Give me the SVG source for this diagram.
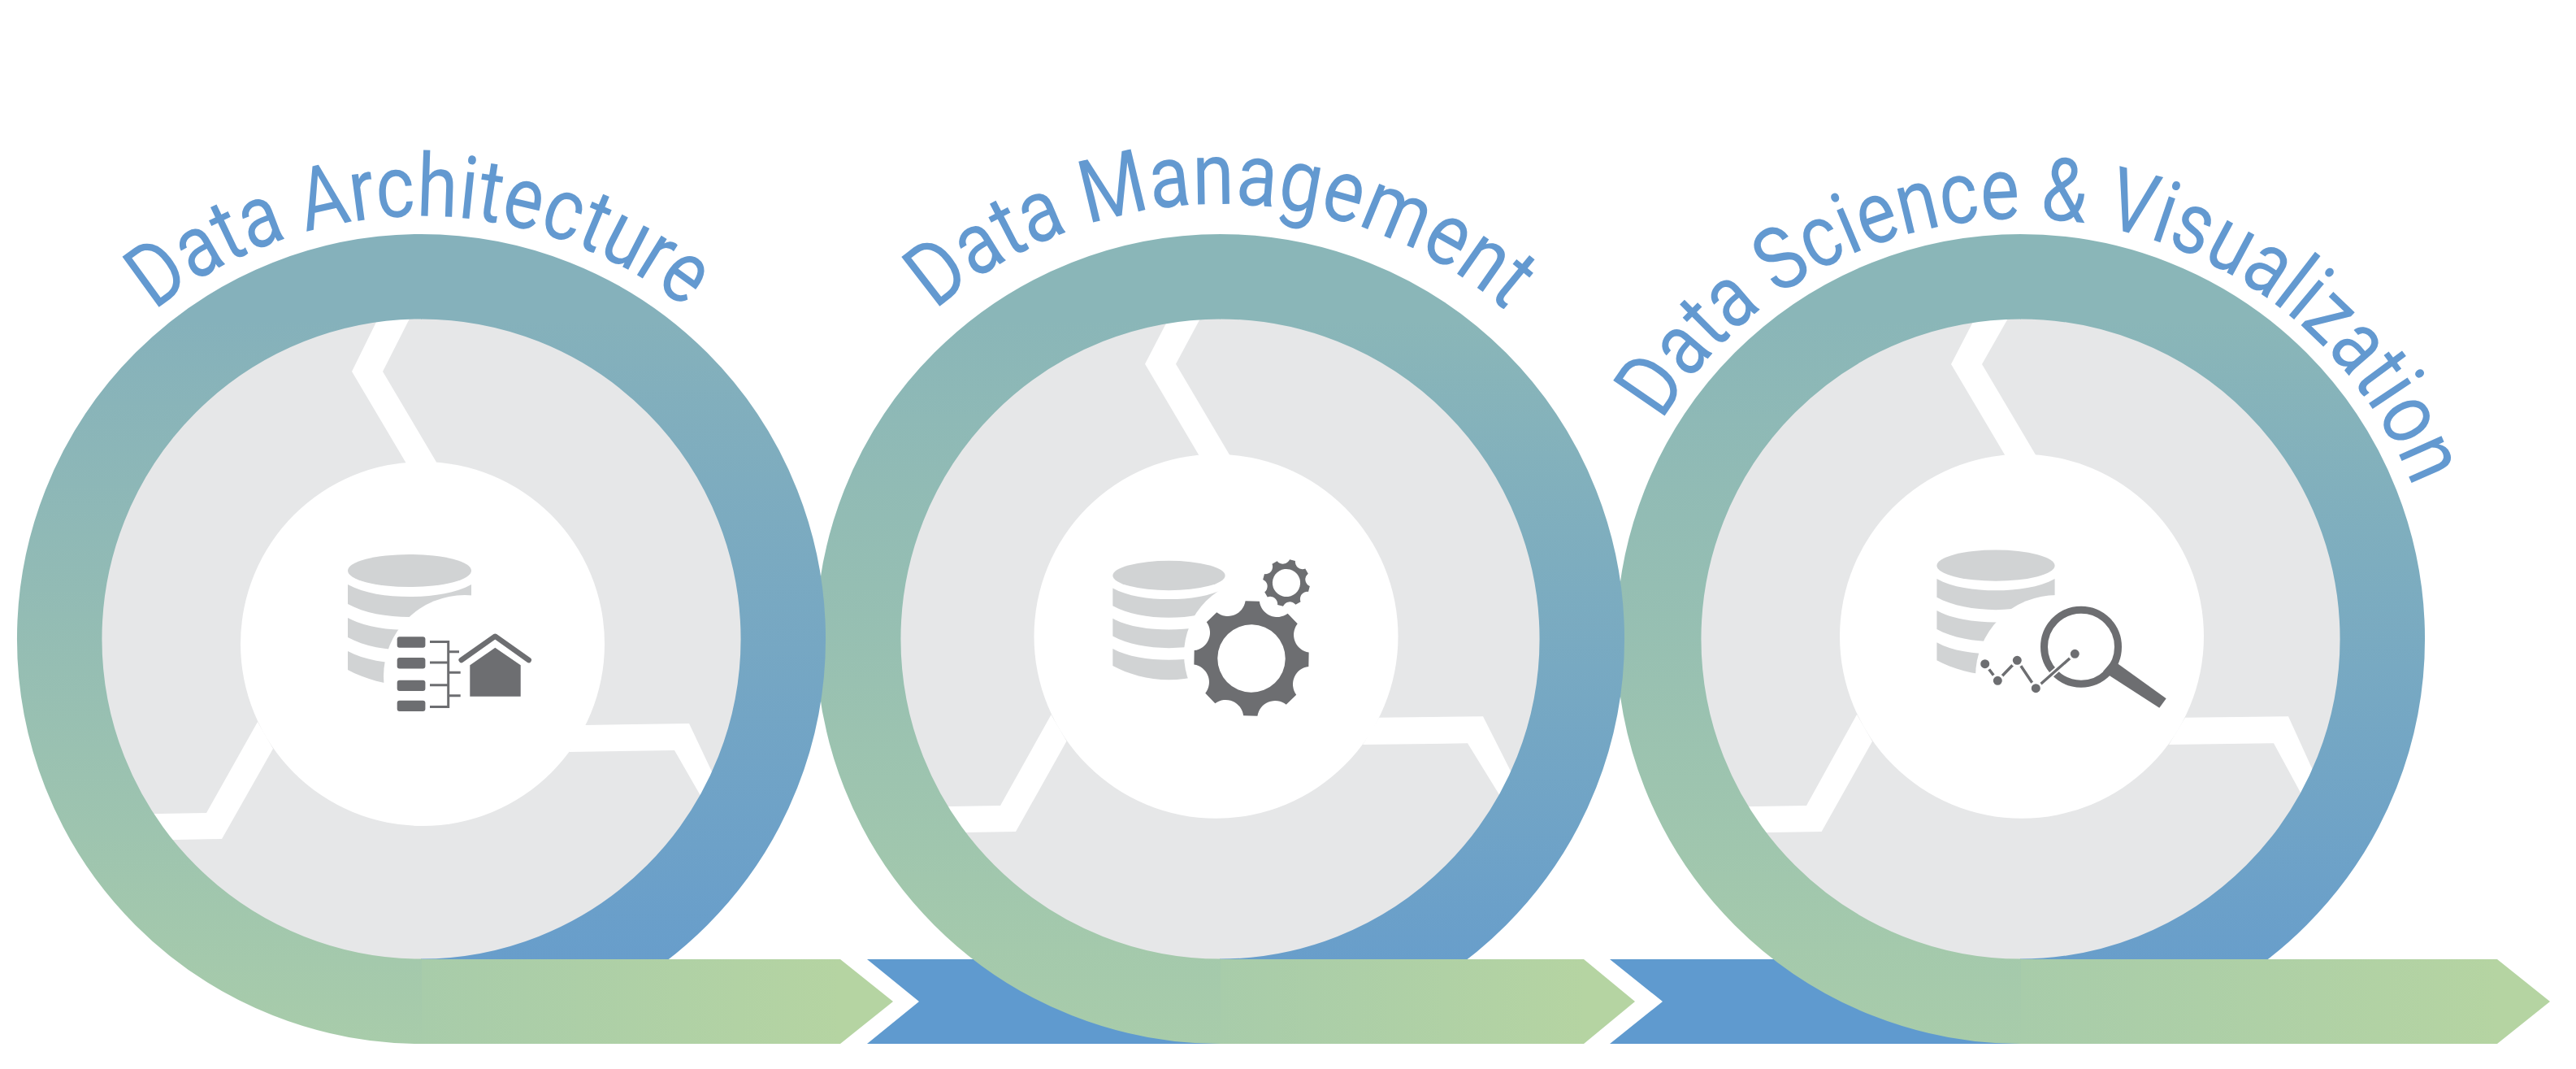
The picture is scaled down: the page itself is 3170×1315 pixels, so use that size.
<svg xmlns="http://www.w3.org/2000/svg" xmlns:xlink="http://www.w3.org/1999/xlink" width="3170" height="1315" viewBox="0 0 3170 1315">
<style>
.bg{fill:#fff}
.disc{fill:#e6e7e8}
.w{fill:#fff}
.ring{fill:none;stroke-width:104.5}
.dark{fill:#6d6e71}
.ln{fill:none;stroke:#6d6e71;stroke-width:3}
.title{font-family:Roboto,"Liberation Sans",sans-serif;font-size:108px;fill:#6399d0}
.blue{fill:#5f9acf}
</style>
<defs>
<linearGradient id="l1" gradientUnits="userSpaceOnUse" x1="0" y1="1284" x2="0" y2="395"><stop offset="0" stop-color="#a8ccaa"/><stop offset="1" stop-color="#85b1bb"/></linearGradient>
<linearGradient id="r1" gradientUnits="userSpaceOnUse" x1="0" y1="395" x2="0" y2="1284"><stop offset="0" stop-color="#85b1bb"/><stop offset="1" stop-color="#649bcd"/></linearGradient>
<linearGradient id="l2" gradientUnits="userSpaceOnUse" x1="0" y1="1284" x2="0" y2="395"><stop offset="0" stop-color="#a8ccaa"/><stop offset="1" stop-color="#8ab6b8"/></linearGradient>
<linearGradient id="r2" gradientUnits="userSpaceOnUse" x1="0" y1="395" x2="0" y2="1284"><stop offset="0" stop-color="#8ab6b8"/><stop offset="1" stop-color="#649bcd"/></linearGradient>
<linearGradient id="a1" gradientUnits="userSpaceOnUse" x1="519" y1="0" x2="1034" y2="0"><stop offset="0" stop-color="#a8ccaa"/><stop offset="1" stop-color="#b5d4a2"/></linearGradient>
<linearGradient id="a2" gradientUnits="userSpaceOnUse" x1="1502" y1="0" x2="1949" y2="0"><stop offset="0" stop-color="#a8ccaa"/><stop offset="1" stop-color="#b5d4a2"/></linearGradient>
<linearGradient id="a3" gradientUnits="userSpaceOnUse" x1="2487" y1="0" x2="3073" y2="0"><stop offset="0" stop-color="#a8ccaa"/><stop offset="1" stop-color="#b5d4a2"/></linearGradient>
<g id="db" fill="#d1d3d4">
<ellipse cx="0" cy="0" rx="76" ry="20"/>
<path d="M-76 17C-56 28-28 32 0 32C28 32 56 28 76 17V41C56 52 28 57 0 57C-28 57-56 52-76 41Z"/>
<path d="M-76 58C-56 69-28 73 0 73C28 73 56 69 76 58V82C56 93 28 98 0 98C-28 98-56 93-76 82Z"/>
<path d="M-76 99C-56 110-28 114 0 114C28 114 56 110 76 99V122C56 133 28 141 0 141C-28 141-56 133-76 122Z"/>
</g>
<path id="gear" fill="#6d6e71" fill-rule="evenodd" d="M-8.65-70.5L8.65-70.5A22 22 0 0 0 43.7-55.97L55.97-43.7A22 22 0 0 0 70.5-8.65L70.5 8.65A22 22 0 0 0 55.97 43.7L43.7 55.97A22 22 0 0 0 8.65 70.5L-8.65 70.5A22 22 0 0 0-43.7 55.97L-55.97 43.7A22 22 0 0 0-70.5 8.65L-70.5-8.65A22 22 0 0 0-55.97-43.7L-43.7-55.97A22 22 0 0 0-8.65-70.5ZM-41.7 0A41.7 41.7 0 1 0 41.7 0A41.7 41.7 0 1 0-41.7 0Z"/>
<path id="t1" d="M190 383A520 520 0 0 1 843.4 379.6"/>
<path id="t2" d="M1151 382.2A535 535 0 0 1 1853 382.2"/>
<path id="t3" d="M2044.9 518.2A517 517 0 0 1 2969.4 599.9"/>
</defs>
<rect class="bg" width="3170" height="1315"/>
<g id="connectors-back">
<path class="blue" d="M1067 1180H1520V1284H1067L1131 1232Z"/>
<path class="blue" d="M1981 1180H2500V1284H1981L2046 1232Z"/>
</g>
<g id="node-3">
<circle class="disc" cx="2487" cy="786" r="396"/>
<path class="w" d="M2431 390L2401 448L2478 578H2516L2439 448L2472 390Z"/>
<path class="w" d="M2285 879L2223 991L2130 992.5L2150 1024.5L2241.6 1023L2304 912Z"/>
<path class="w" d="M2689 882.7L2816 881.3L2870 1000L2850 1010L2798 914.3L2669 916Z"/>
<circle class="w" cx="2488" cy="782.7" r="224"/>
<use href="#db" transform="translate(2456,695.7) scale(.955)"/>
<circle class="w" cx="2531" cy="832" r="100"/>
<circle cx="2561" cy="795.7" r="45.5" fill="none" stroke="#6d6e71" stroke-width="9"/>
<path class="dark" d="M2600 812L2665.7 859.3L2657.3 870.7L2588 826Z"/>
<path d="M2505.3 846.7L2553.3 804.3" fill="none" stroke="#fff" stroke-width="7"/>
<path d="M2442.7 816.7L2458.3 837.3L2482.3 812.3L2505.3 846.7L2553.3 804.3" fill="none" stroke="#6d6e71" stroke-width="3.5"/>
<g fill="#6d6e71" stroke="#fff" stroke-width="3">
<circle cx="2442.7" cy="816.7" r="7"/><circle cx="2458.3" cy="837.3" r="7"/><circle cx="2482.3" cy="812.3" r="7"/><circle cx="2505.3" cy="846.7" r="7"/><circle cx="2553.3" cy="804.3" r="7"/>
</g>
<path class="ring" stroke="url(#r2)" d="M2486 340.2A445.8 445.8 0 0 1 2486 1231.8"/>
<path class="ring" stroke="url(#l2)" d="M2487 1231.8A445.8 445.8 0 0 1 2487 340.2"/>
<text class="title"><textPath href="#t3" textLength="1152" lengthAdjust="spacingAndGlyphs">Data Science &amp; Visualization</textPath></text>
</g>
<g id="node-2">
<circle class="disc" cx="1502" cy="786" r="396"/>
<path class="w" d="M1439 390L1409 447.7L1486 578H1524L1447 447.7L1478 390Z"/>
<path class="w" d="M1293.5 879.3L1231 991L1140 992.5L1160 1024.5L1250 1023L1312.5 911.7Z"/>
<path class="w" d="M1697 882.7L1825 881.3L1885 1000L1865 1010L1806 914.3L1677 916Z"/>
<circle class="w" cx="1496.5" cy="782.7" r="224"/>
<use href="#db" transform="translate(1438.5,708) scale(.91)"/>
<circle class="w" cx="1550" cy="805" r="93"/>
<use href="#gear" transform="translate(1540,810) rotate(1)"/>
<use href="#gear" transform="translate(1583,717) rotate(15) scale(.41)"/>
<path class="ring" stroke="url(#r2)" d="M1501 340.2A445.8 445.8 0 0 1 1501 1231.8"/>
<path class="ring" stroke="url(#l2)" d="M1502 1231.8A445.8 445.8 0 0 1 1502 340.2"/>
<text class="title"><textPath href="#t2" textLength="765.7" lengthAdjust="spacingAndGlyphs">Data Management</textPath></text>
</g>
<g id="node-1">
<circle class="disc" cx="519" cy="786" r="396"/>
<path class="w" d="M467 388L433 457L510 587H548L471 457L506 388Z"/>
<path class="w" d="M317 888L254 1000L165 1001.5L190 1033.5L273 1032L336 921Z"/>
<path class="w" d="M720 892L848 890L900 1000L880 1010L830 923L700 925Z"/>
<circle class="w" cx="520" cy="792" r="224"/>
<use href="#db" transform="translate(504,702)"/>
<circle class="w" cx="572" cy="832" r="100"/>
<g class="dark">
<rect x="488.7" y="783.3" width="34.7" height="13.4" rx="3"/>
<rect x="488.7" y="809" width="34.7" height="13.4" rx="3"/>
<rect x="488.7" y="836.7" width="34.7" height="13.4" rx="3"/>
<rect x="488.7" y="861.7" width="34.7" height="13.4" rx="3"/>
<path d="M578.3 818.3L609.3 796.7L640.7 818.3V856.7H578.3Z"/>
</g>
<path class="ln" d="M529 789.5H551.7V869.5H529M529 815H551.7M529 842.7H551.7M551.7 801.7H565M551.7 827.3H566.7M551.7 855.7H566.7"/>
<path d="M567.7 812L609.3 782.7L650.7 812" fill="none" stroke="#6d6e71" stroke-width="6.5" stroke-linecap="round" stroke-linejoin="round"/>
<path class="ring" stroke="url(#r1)" d="M518 340.2A445.8 445.8 0 0 1 518 1231.8"/>
<path class="ring" stroke="url(#l1)" d="M519 1231.8A445.8 445.8 0 0 1 519 340.2"/>
<text class="title"><textPath href="#t1" textLength="706" lengthAdjust="spacingAndGlyphs">Data Architecture</textPath></text>
</g>
<g id="connectors">
<path fill="url(#a1)" d="M519 1180H1034L1099 1232L1034 1284H519Z"/>
<path fill="url(#a2)" d="M1502 1180H1949L2012 1232L1949 1284H1502Z"/>
<path fill="url(#a3)" d="M2487 1180H3073L3138 1232L3073 1284H2487Z"/>
</g>
</svg>
